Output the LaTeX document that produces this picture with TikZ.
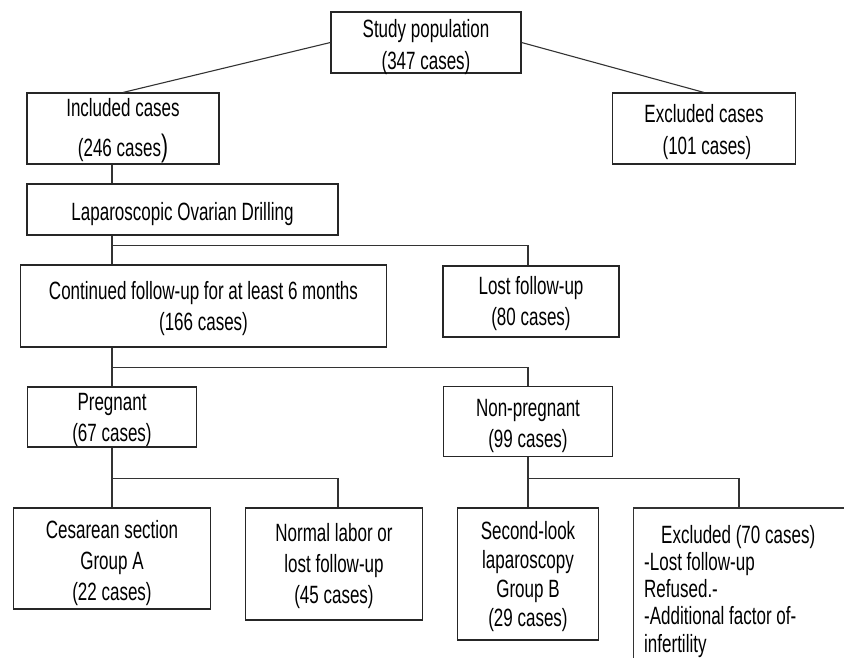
\documentclass[tikz,border=0pt]{standalone}
\usepackage{fontspec}
\setmainfont[FakeStretch=0.68]{Liberation Sans}
\usetikzlibrary{calc}
\newcommand{\topline}[1][25]{\rule{0pt}{#1pt}}

\begin{document}
\begin{tikzpicture}[x=1pt,y=-1pt,
 box/.style={draw=black!85,line width=1.1pt,inner xsep=0pt,inner ysep=-4pt,align=center,
  font=\fontsize{25}{31}\selectfont},
 link/.style={draw=black!80,line width=1.1pt}]
 \useasboundingbox (0,0) rectangle (844,658);
 \node[box,minimum width=190pt,minimum height=61pt] (study) at (426,42.5) {\topline[28]Study population\\[1pt](347 cases)};
 \node[box,minimum width=192pt,minimum height=71pt] (incl) at (123,128.5) {\topline[23]Included cases\\[9pt](246 cases{\fontsize{31}{31}\selectfont)}};
 \node[box,minimum width=183pt,minimum height=71pt] (excl) at (704,128.5) {\topline[26]Excluded cases\\[1pt]\hspace*{6pt}(101 cases)};
 \node[box,minimum width=311pt,minimum height=51pt] (lod) at (182.5,209.5) {\topline[28]Laparoscopic Ovarian Drilling};
 \node[box,minimum width=366pt,minimum height=82pt] (cont) at (203.5,306) {\topline[23]Continued follow-up for at least 6 months\\(166 cases)};
 \node[box,minimum width=176pt,minimum height=71pt] (lost) at (531,301.5) {\topline[22]Lost follow-up\\(80 cases)};
 \node[box,minimum width=169.5pt,minimum height=60pt] (preg) at (112,417) {\topline[23]Pregnant\\(67 cases)};
 \node[box,minimum width=169.5pt,minimum height=70pt] (nonpreg) at (528,421.5) {\topline[27]Non-pregnant\\(99 cases)};
 \node[box,minimum width=197.5pt,minimum height=101pt] (ces) at (112,558.5) {\topline[27]Cesarean section\\Group A\\(22 cases)};
 \node[box,minimum width=176.5pt,minimum height=112pt] (normal) at (334,564) {\topline[23]Normal labor or\\lost follow-up\\(45 cases)};
 \node[box,minimum width=141pt,minimum height=132pt,font=\fontsize{25}{29}\selectfont] (second) at (528,574) {\topline[24]Second-look\\laparoscopy\\Group B\\(29 cases)};
 \node[anchor=north west,inner sep=0pt,font=\fontsize{25}{27.25}\selectfont] (exc) at (644,524.7)
  {\parbox[t]{195pt}{\hspace*{17pt}Excluded (70 cases)\\-Lost follow-up\\Refused.-\\-Additional factor of-\\infertility}};
 % box of the last node runs off the page
 \draw[link] (633.5,658) -- (633.5,508) -- (844,508);
 \coordinate (exctop) at (739,508);

 \draw[link] (study.west) -- (incl.north);
 \draw[link] (study.east) -- (excl.north);
 \draw[link] (incl.south -| preg.north) -- (lod.north -| preg.north);
 \draw[link] (lod.south -| preg.north) -- (cont.north -| preg.north);
 \path (lod.south -| preg.north) ++(0,10) coordinate (split1);
 \draw[link] (split1) -| (lost.north -| nonpreg.north);
 \draw[link] (cont.south -| preg.north) -- (preg.north);
 \path (cont.south -| preg.north) ++(0,20) coordinate (split2);
 \draw[link] (split2) -| (nonpreg.north);
 \draw[link] (preg.south) -- (ces.north -| preg.south);
 \path (preg.south) ++(0,31) coordinate (split3);
 \draw[link] (split3) -| ($(normal.north)+(4,0)$);
 \draw[link] (nonpreg.south) -- (second.north);
 \path (nonpreg.south) ++(0,21) coordinate (split4);
 \draw[link] (split4) -| (exctop);
\end{tikzpicture}
\end{document}
